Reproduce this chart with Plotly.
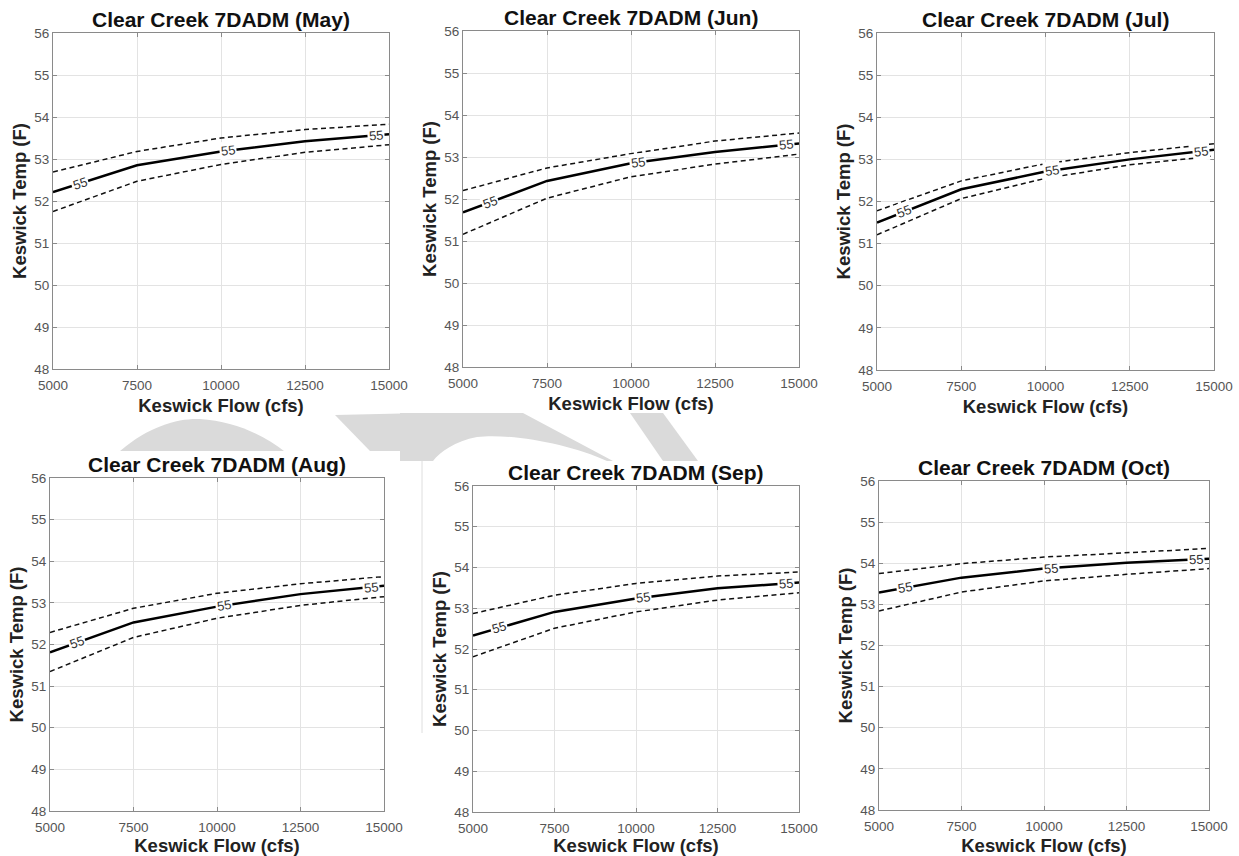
import math
import numpy as np
import plotly.graph_objects as go
from plotly.subplots import make_subplots

# ---------------- data ----------------
flow = [5000, 7500, 10000, 12500, 15000]
months = ["May", "Jun", "Jul", "Aug", "Sep", "Oct"]

may_mid = [52.21, 52.85, 53.18, 53.42, 53.59]
may_hi = [52.69, 53.18, 53.50, 53.70, 53.83]
may_lo = [51.75, 52.47, 52.87, 53.16, 53.34]

jun_mid = [51.68, 52.43, 52.85, 53.12, 53.32]
jun_hi = [52.20, 52.74, 53.08, 53.38, 53.57]
jun_lo = [51.16, 52.02, 52.53, 52.83, 53.07]

jul_mid = [51.50, 52.29, 52.71, 53.00, 53.23]
jul_hi = [51.78, 52.49, 52.90, 53.16, 53.37]
jul_lo = [51.21, 52.07, 52.55, 52.87, 53.08]

aug_mid = [51.81, 52.53, 52.91, 53.21, 53.41]
aug_hi = [52.29, 52.87, 53.23, 53.46, 53.63]
aug_lo = [51.35, 52.17, 52.63, 52.94, 53.15]

sep_mid = [52.33, 52.91, 53.24, 53.49, 53.63]
sep_hi = [52.87, 53.32, 53.61, 53.79, 53.89]
sep_lo = [51.81, 52.51, 52.91, 53.20, 53.38]

oct_mid = [53.29, 53.65, 53.87, 54.01, 54.11]
oct_hi = [53.75, 53.99, 54.15, 54.26, 54.36]
oct_lo = [52.84, 53.30, 53.57, 53.73, 53.87]

mids = [may_mid, jun_mid, jul_mid, aug_mid, sep_mid, oct_mid]
his = [may_hi, jun_hi, jul_hi, aug_hi, sep_hi, oct_hi]
los = [may_lo, jun_lo, jul_lo, aug_lo, sep_lo, oct_lo]

contour_label = "55"
label_flows = [5800, 10200, 14600]

x_ticks = [5000, 7500, 10000, 12500, 15000]
x_tick_text = ["5000", "7500", "10000", "12500", "15000"]
y_ticks = [48, 49, 50, 51, 52, 53, 54, 55, 56]
y_tick_text = ["48", "49", "50", "51", "52", "53", "54", "55", "56"]

# ---------------- layout geometry (pixels) ----------------
W, H = 1239, 856
boxes = [  # x0, x1, y0(top), y1(bottom)
    (53, 389, 33, 369),
    (463, 799, 31, 367),
    (877, 1214, 33, 370),
    (50, 384, 478, 811),
    (473, 799, 486, 812),
    (879, 1209, 481, 810),
]

FONT = "Arial, 'Liberation Sans', Helvetica, sans-serif"

fig = make_subplots(rows=2, cols=3)

for i in range(6):
    r, c = i // 3 + 1, i % 3 + 1
    fig.add_trace(go.Scatter(x=flow, y=his[i], mode="lines",
                             line=dict(color="#111111", width=1.5, dash="5px,3.5px"),
                             showlegend=False, hoverinfo="skip"), row=r, col=c)
    fig.add_trace(go.Scatter(x=flow, y=los[i], mode="lines",
                             line=dict(color="#111111", width=1.5, dash="5px,3.5px"),
                             showlegend=False, hoverinfo="skip"), row=r, col=c)
    fig.add_trace(go.Scatter(x=flow, y=mids[i], mode="lines",
                             line=dict(color="#000000", width=2.5),
                             showlegend=False), row=r, col=c)

for i, (x0, x1, y0, y1) in enumerate(boxes):
    sfx = "" if i == 0 else str(i + 1)
    fig.layout["xaxis" + sfx].update(
        domain=[x0 / W, x1 / W], range=[5000, 15000], automargin=False,
        tickmode="array", tickvals=x_ticks, ticktext=x_tick_text,
        showgrid=True, gridcolor="#e3e3e3", gridwidth=1, zeroline=False,
        showline=True, linecolor="#8a8a8a", linewidth=1, mirror="ticks",
        ticks="inside", ticklen=4, tickcolor="#8a8a8a", ticklabelstandoff=4,
        tickfont=dict(family=FONT, size=13.5, color="#555555"),
        title=dict(text="<b>Keswick Flow (cfs)</b>", standoff=6,
                   font=dict(family=FONT, size=18.5, color="#222222")))
    fig.layout["yaxis" + sfx].update(
        domain=[1 - y1 / H, 1 - y0 / H], range=[48, 56], automargin=False,
        tickmode="array", tickvals=y_ticks, ticktext=y_tick_text,
        showgrid=True, gridcolor="#e3e3e3", gridwidth=1, zeroline=False,
        showline=True, linecolor="#8a8a8a", linewidth=1, mirror="ticks",
        ticks="inside", ticklen=4, tickcolor="#8a8a8a",
        tickfont=dict(family=FONT, size=13.5, color="#555555"),
        title=dict(text="<b>Keswick Temp (F)</b>", standoff=2,
                   font=dict(family=FONT, size=18.5, color="#222222")))

    # title
    fig.add_annotation(xref=f"x{sfx} domain", yref=f"y{sfx} domain", x=0.5, y=1,
                       yanchor="bottom", yshift=0, showarrow=False,
                       text=f"<b>Clear Creek 7DADM ({months[i]})</b>",
                       font=dict(family=FONT, size=21, color="#111111"))

    # contour labels following the solid line
    pxx = (x1 - x0) / 10000.0
    pxy = (y1 - y0) / 8.0
    for lf in label_flows:
        ly = float(np.interp(lf, flow, mids[i]))
        k = int(np.searchsorted(flow, lf)) - 1
        k = max(0, min(k, len(flow) - 2))
        slope = (mids[i][k + 1] - mids[i][k]) / (flow[k + 1] - flow[k])
        ang = -math.degrees(math.atan(slope * pxy / pxx))
        fig.add_annotation(xref=f"x{sfx}", yref=f"y{sfx}", x=lf, y=ly,
                           text=contour_label, showarrow=False, textangle=ang,
                           bgcolor="white", borderpad=1,
                           font=dict(family=FONT, size=13, color="#333333"))

# ---------------- light-gray watermark fragments ----------------
def P(x, y):
    return f"{x / W:.5f},{1 - y / H:.5f}"

wm = "#dadada"
paths = [
    # left arc
    "M " + P(120, 451) + " C " + P(150, 425) + " " + P(180, 418) + " " + P(200, 419)
    + " C " + P(235, 421) + " " + P(265, 436) + " " + P(284, 451) + " Z",
    # left V band
    "M " + P(335, 415) + " L " + P(423, 413) + " L " + P(423, 430) + " L " + P(401, 451)
    + " L " + P(370, 451) + " Z",
    # middle arc band
    "M " + P(400, 413) + " L " + P(523, 413) + " L " + P(613, 461) + " L " + P(607, 461)
    + " C " + P(570, 444) + " " + P(510, 433) + " " + P(477, 437)
    + " C " + P(455, 441) + " " + P(440, 452) + " " + P(433, 461)
    + " L " + P(400, 461) + " Z",
    # middle diagonal band
    "M " + P(630, 413) + " L " + P(663, 413) + " L " + P(698, 461) + " L " + P(663, 461) + " Z",
]
shapes = [dict(type="path", xref="paper", yref="paper", path=p, fillcolor=wm,
               line=dict(width=0), layer="below") for p in paths]
shapes.append(dict(type="line", xref="paper", yref="paper", x0=422 / W, x1=422 / W,
                   y0=1 - 461 / H, y1=1 - 733 / H, line=dict(color="#dedede", width=1),
                   layer="below"))

fig.update_layout(
    width=W, height=H, margin=dict(l=0, r=0, t=0, b=0, autoexpand=False),
    paper_bgcolor="white", plot_bgcolor="white",
    font=dict(family=FONT), shapes=shapes, showlegend=False,
)

fig.write_html("out.html", config={"displayModeBar": False},
               post_script="document.body.style.margin='0';")
